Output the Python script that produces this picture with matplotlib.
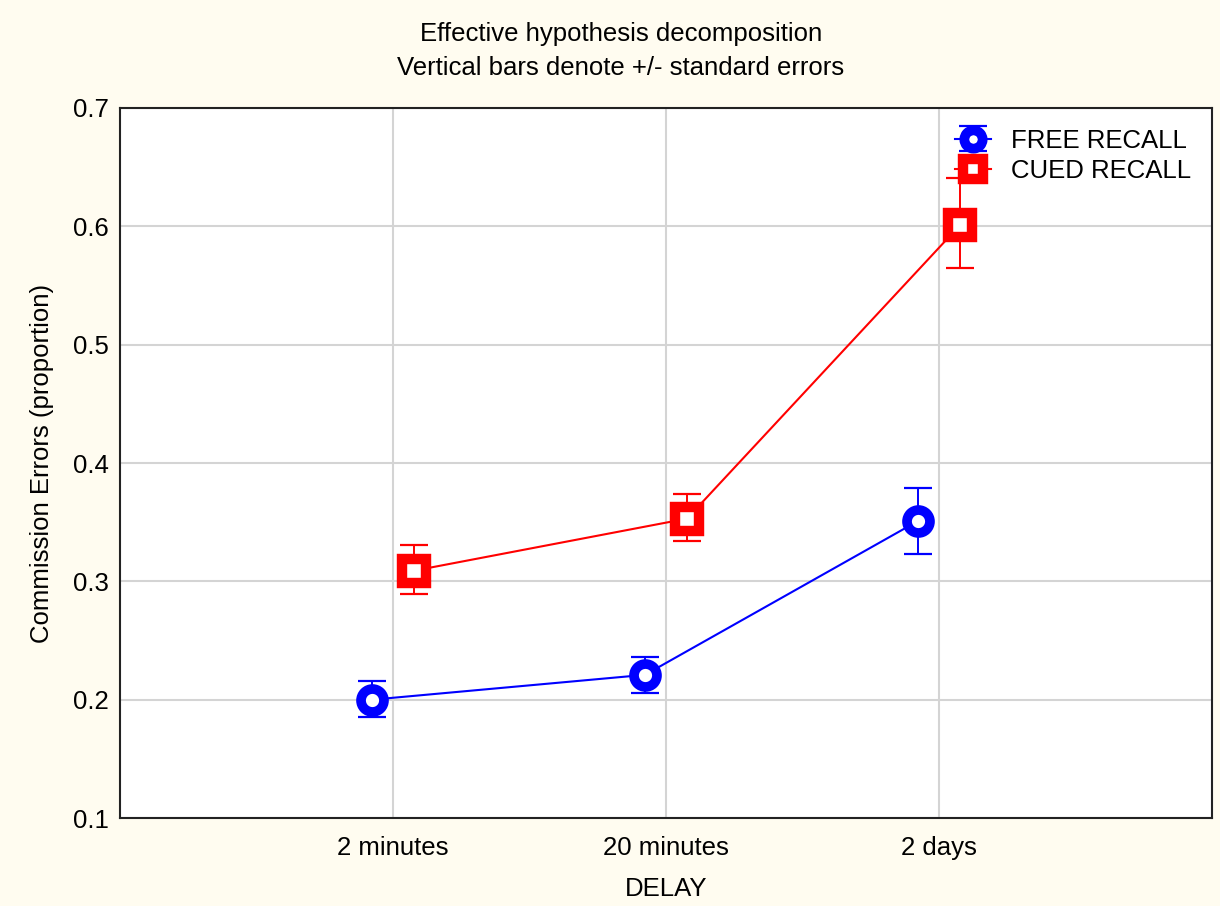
import matplotlib
matplotlib.use("Agg")
import matplotlib.pyplot as plt
import numpy as np

plt.rcParams['font.family'] = ['Liberation Sans', 'DejaVu Sans']

categories = ["2 minutes", "20 minutes", "2 days"]
free_mean = [0.200, 0.221, 0.351]
free_lo = [0.185, 0.206, 0.323]
free_hi = [0.216, 0.236, 0.379]
cued_mean = [0.309, 0.353, 0.601]
cued_lo = [0.289, 0.334, 0.565]
cued_hi = [0.331, 0.374, 0.641]
yticks = [0.1, 0.2, 0.3, 0.4, 0.5, 0.6, 0.7]

FS = 18.5

fig = plt.figure(figsize=(12.2, 9.06), dpi=100, facecolor='#fffcf0')
ax = fig.add_axes([0.0984, 0.0971, 0.895, 0.7837])
ax.set_facecolor('white')

x = np.arange(1, len(categories) + 1)
off = 0.077

fm = np.array(free_mean); cm = np.array(cued_mean)
ferr = [fm - np.array(free_lo), np.array(free_hi) - fm]
cerr = [cm - np.array(cued_lo), np.array(cued_hi) - cm]

eb1 = ax.errorbar(x - off, fm, yerr=ferr, color='#0000ff', lw=1.5, marker='o',
                  markersize=16.5, markerfacecolor='white', markeredgewidth=7,
                  capsize=10, elinewidth=1.4, label='FREE RECALL', zorder=3)
eb2 = ax.errorbar(x + off, cm, yerr=cerr, color='#ff0000', lw=1.5, marker='s',
                  markersize=17.5, markerfacecolor='white', markeredgewidth=7.5,
                  capsize=10, elinewidth=1.4, label='CUED RECALL', zorder=3)
for eb in (eb1, eb2):
    for cl in eb[1]:
        cl.set_markeredgewidth(1.6)

ax.set_xlim(0, 4)
ax.set_ylim(0.1, 0.7)
ax.set_xticks(x)
ax.set_xticklabels(categories)
ax.set_yticks(yticks)
ax.set_yticklabels([f"{v:.1f}" for v in yticks])
ax.tick_params(axis='x', length=0, labelsize=FS, pad=13)
ax.tick_params(axis='y', length=0, labelsize=FS, pad=8)
ax.grid(True, color='#d4d4d4', lw=1.5)
ax.set_axisbelow(True)
for s in ax.spines.values():
    s.set_linewidth(1.5)
    s.set_color('#222222')

ax.set_xlabel('DELAY', fontsize=FS, labelpad=12)
ax.set_ylabel('Commission Errors (proportion)', fontsize=FS, labelpad=14)

fig.text(0.509, 0.963, 'Effective hypothesis decomposition', ha='center', va='center', fontsize=FS)
fig.text(0.509, 0.925, 'Vertical bars denote +/- standard errors', ha='center', va='center', fontsize=FS)

leg = ax.legend(loc='upper right', frameon=False, fontsize=FS, handlelength=1.4,
                handletextpad=0.8, borderaxespad=0.4, labelspacing=0.25, markerscale=0.8)

fig.savefig('out.png', dpi=100, facecolor=fig.get_facecolor())
